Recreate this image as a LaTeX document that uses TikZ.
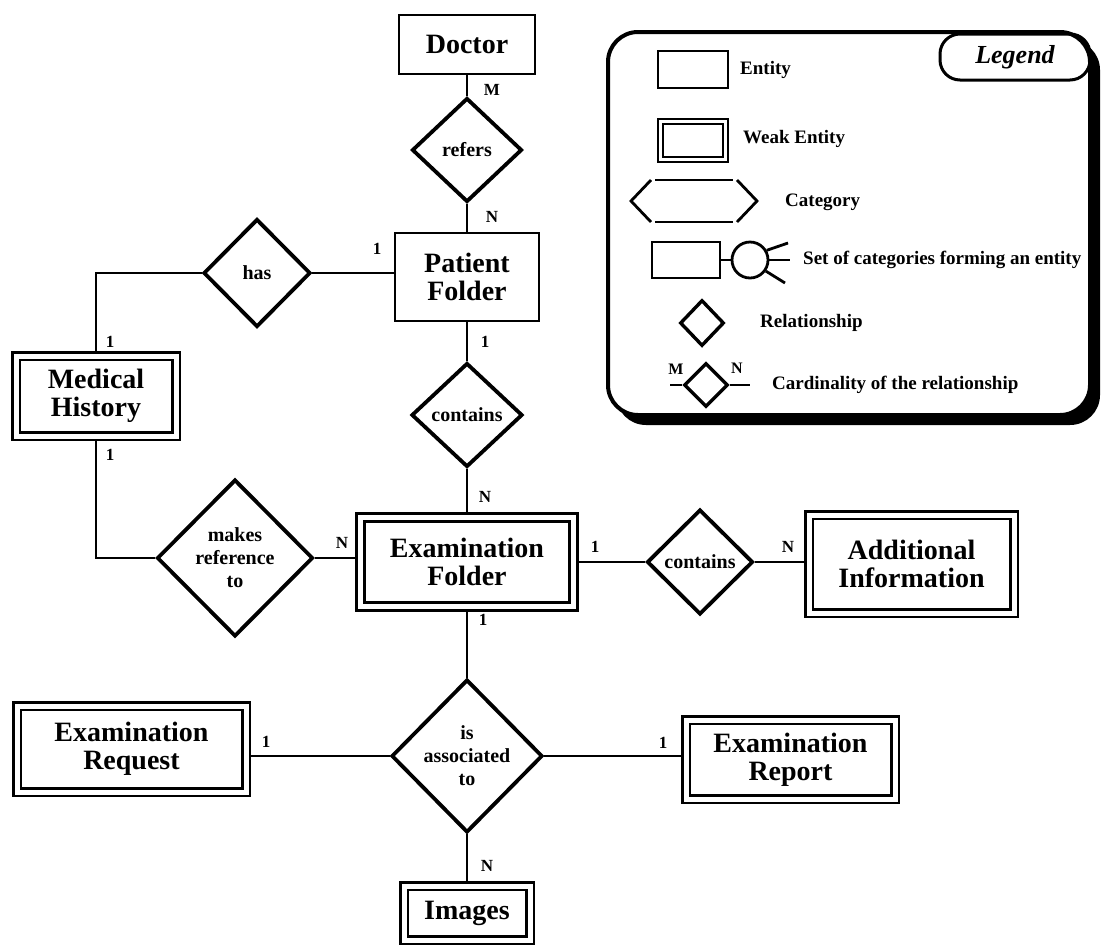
\documentclass[tikz,border=0pt]{standalone}
\usepackage{fontspec}
\setmainfont{Liberation Serif}
\usetikzlibrary{shapes.geometric,backgrounds}
\begin{document}
\begin{tikzpicture}[x=1pt,y=-1pt,
  ent/.style={draw, line width=2.8pt, fill=white, inner sep=0pt, align=center,
    font=\fontsize{28}{28}\selectfont\bfseries},
  weak/.style={draw, line width=2.6pt, double, double distance=5pt, fill=white,
    inner sep=0pt, align=center, font=\fontsize{28}{28}\selectfont\bfseries},
  rel/.style={draw, diamond, line width=3.8pt, fill=white, inner sep=0pt,
    align=center, font=\fontsize{20}{23}\selectfont\bfseries},
  card/.style={inner sep=0pt, font=\fontsize{17}{17}\selectfont\bfseries},
  conn/.style={line width=2.8pt},
  lgtext/.style={anchor=west, inner sep=0pt, font=\fontsize{19}{19}\selectfont\bfseries},
  lgline/.style={line width=2.8pt},
]
\useasboundingbox (0,0) rectangle (1105,946);

% ---------- entities ----------
\node[ent, minimum width=136, minimum height=59] (doc) at (467,44.5) {Doctor};
\node[ent, minimum width=144, minimum height=88] (pf) at (467,277) {Patient\\Folder};
\node[weak, minimum width=160, minimum height=80] (mh) at (96,396) {Medical\\History};
\node[weak, minimum width=213, minimum height=89] (ef) at (467,562) {Examination\\Folder};
\node[weak, minimum width=205, minimum height=98] (ai) at (911.5,564) {Additional\\Information};
\node[weak, minimum width=229, minimum height=86] (rq) at (131.5,749) {Examination\\Request};
\node[weak, minimum width=209, minimum height=79] (rp) at (790.5,759.5) {Examination\\Report};
\node[weak, minimum width=126, minimum height=54] (im) at (467,913) {Images};

% ---------- relationships ----------
\node[rel, minimum width=110, minimum height=104] (refers) at (467,150) {refers};
\node[rel, minimum width=107, minimum height=108] (has) at (257,273) {has};
\node[rel, minimum width=111, minimum height=104] (cm) at (467,415) {contains};
\node[rel, minimum width=156, minimum height=157] (mr) at (235,558) {makes\\reference\\to};
\node[rel, minimum width=106, minimum height=105] (cr) at (700,562) {contains};
\node[rel, minimum width=151, minimum height=153] (as) at (467,756) {is\\associated\\to};

% ---------- connectors ----------
\begin{scope}[on background layer]
  \draw[conn] (doc.south) -- (refers.north);
  \draw[conn] (refers.south) -- (pf.north);
  \draw[conn] (has.east) -- (has.east -| pf.west);
  \draw[conn] (has.west) -| (mh.north);
  \draw[conn] (mh.south) |- (mr.west);
  \draw[conn] (mr.east) -- (mr.east -| ef.west);
  \draw[conn] (pf.south) -- (cm.north);
  \draw[conn] (cm.south) -- (ef.north);
  \draw[conn] (ef.east) -- (cr.west);
  \draw[conn] (cr.east) -- (cr.east -| ai.west);
  \draw[conn] (ef.south) -- (as.north);
  \draw[conn] (as.west) -- (as.west -| rq.east);
  \draw[conn] (as.east) -- (as.east -| rp.west);
  \draw[conn] (as.south) -- (im.north);
\end{scope}

% ---------- cardinalities ----------
\node[card] (c1) at (492,90) {M};
\node[card] (c2) at (492,217) {N};
\node[card] (c3) at (377,249) {1};
\node[card] (c4) at (110,342) {1};
\node[card] (c5) at (110,455) {1};
\node[card] (c6) at (485,342) {1};
\node[card] (c7) at (485,497) {N};
\node[card] (c8) at (342,543) {N};
\node[card] (c9) at (595,547) {1};
\node[card] (c10) at (483,620) {1};
\node[card] (c11) at (788,547) {N};
\node[card] (c12) at (266,742) {1};
\node[card] (c13) at (663,743) {1};
\node[card] (c14) at (487,866) {N};

% ---------- legend ----------
\fill[rounded corners=30pt] (616,40) rectangle (1100,425);
\draw[line width=4pt, fill=white, rounded corners=30pt] (608,32) rectangle (1090,415);
\node[draw, line width=3pt, rounded corners=20pt, minimum width=150, minimum height=46,
  inner sep=0pt, font=\fontsize{26}{26}\selectfont\bfseries\itshape] (lgtag) at (1015,57) {Legend};

\node[draw, line width=2.8pt, minimum width=70, minimum height=37, inner sep=0pt] (lgent) at (693,69.5) {};
\node[lgtext] (lgentt) at (740,70) {Entity};

\node[draw, line width=2.2pt, double, double distance=3pt, minimum width=65, minimum height=38,
  inner sep=0pt] (lgweak) at (693,140.5) {};
\node[lgtext] (lgweakt) at (743,139) {Weak Entity};

\draw[lgline] (651,180) -- (631,201) -- (651,222);
\draw[lgline] (655,180) -- (733,180);
\draw[lgline] (655,222) -- (733,222);
\draw[lgline] (737,180) -- (757,201) -- (737,222);
\node[lgtext] (lgcatt) at (785,202) {Category};

\node[draw, line width=2.8pt, minimum width=68, minimum height=36, inner sep=0pt] (lgset) at (686,260) {};
\node[draw, circle, line width=2.8pt, minimum size=36, inner sep=0pt] (lgcirc) at (750,260) {};
\draw[lgline] (lgset.east) -- (lgcirc.west);
\coordinate (sp1) at (788,243);
\coordinate (sp2) at (790,260);
\coordinate (sp3) at (785,283);
\draw[lgline] (lgcirc.30) -- (sp1);
\draw[lgline] (lgcirc.east) -- (sp2);
\draw[lgline] (lgcirc.-35) -- (sp3);
\node[lgtext] (lgsett) at (803,260) {Set of categories forming an entity};

\node[rel, line width=3.4pt, minimum width=44, minimum height=46] (lgrel) at (702,323) {};
\node[lgtext] (lgrelt) at (760,323) {Relationship};

\node[rel, line width=3.4pt, minimum width=44, minimum height=44] (lgcard) at (706,385) {};
\coordinate (lgm) at (670,385);
\coordinate (lgn) at (750,385);
\draw[lgline] (lgm) -- (lgcard.west);
\draw[lgline] (lgcard.east) -- (lgn);
\node[card, font=\fontsize{16}{16}\selectfont\bfseries] (lgmt) at (676,369) {M};
\node[card, font=\fontsize{16}{16}\selectfont\bfseries] (lgnt) at (737,368) {N};
\node[lgtext] (lgcardt) at (772,385) {Cardinality of the relationship};
\end{tikzpicture}
\end{document}
